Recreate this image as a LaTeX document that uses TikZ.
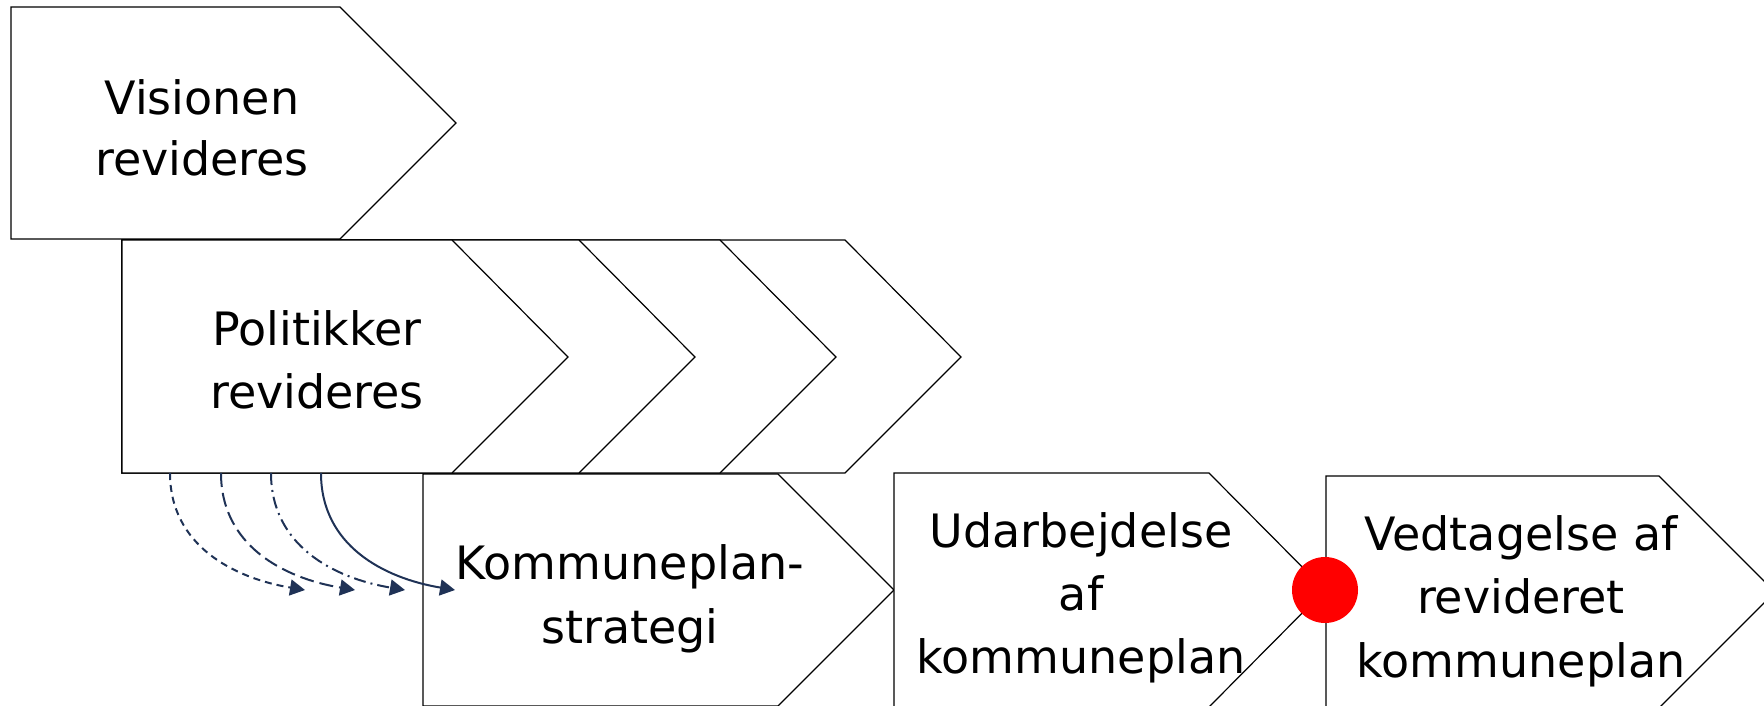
\documentclass[tikz,border=0pt]{standalone}
\usepackage{fontspec}
\setmainfont{DejaVu Sans}
\usetikzlibrary{arrows.meta}
\definecolor{navy}{RGB}{31,50,86}
\tikzset{
  plate/.style={draw=black, line width=1.2pt, fill=white, line join=miter},
  lbl/.style={anchor=base, inner sep=0pt, text=black, font=\fontsize{46}{63}\selectfont},
  flow/.style={draw=navy, line width=2pt, -{Triangle[length=15pt,width=16pt]}},
  dot/.style={circle, fill=red, draw=none, minimum size=66pt, inner sep=0pt}
}
\begin{document}
\begin{tikzpicture}[x=1pt,y=-1pt]
\useasboundingbox (0,0) rectangle (1764,705);
\begin{scope}
\clip (0,0) rectangle (1764,705);
% Visionen
\path[plate] (11,7) -- (340,7) -- (456,123) -- (340,239) -- (11,239) -- cycle;
% back chevrons of Politikker (right to left)
\path[plate] (122,240) -- (845,240) -- (961,357) -- (845,473) -- (122,473) -- cycle;
\path[plate] (122,240) -- (720,240) -- (836,357) -- (720,473) -- (122,473) -- cycle;
\path[plate] (122,240) -- (579,240) -- (695,357) -- (579,473) -- (122,473) -- cycle;
% Politikker
\path[plate] (122,240) -- (452,240) -- (568,357) -- (452,473) -- (122,473) -- cycle;
% Kommuneplan-strategi
\path[plate] (423,474) -- (778,474) -- (894,590) -- (778,706) -- (423,706) -- cycle;
% Udarbejdelse
\path[plate] (894,473) -- (1209,473) -- (1325,590) -- (1209,707) -- (894,707) -- cycle;
% Vedtagelse
\path[plate] (1326,476) -- (1659,476) -- (1775,592) -- (1659,708) -- (1326,708) -- cycle;
\end{scope}
\node[dot] (milestone) at (1325,590) {};

\node[lbl, font=\fontsize{46}{61}\selectfont] (tVis) at (202,114)
  {\begin{tabular}[t]{@{}c@{}}Visionen\\revideres\end{tabular}};
\node[lbl] (tPol) at (317,345)
  {\begin{tabular}[t]{@{}c@{}}Politikker\\revideres\end{tabular}};
\node[lbl, font=\fontsize{46}{64}\selectfont] (tKom) at (630,579)
  {\begin{tabular}[t]{@{}c@{}}Kommuneplan-\\strategi\end{tabular}};
\node[lbl] (tUd) at (1081,547)
  {\begin{tabular}[t]{@{}c@{}}Udarbejdelse\\af\\kommuneplan\end{tabular}};
\node[lbl, font=\fontsize{46}{63.5}\selectfont] (tVed) at (1521,550)
  {\begin{tabular}[t]{@{}c@{}}Vedtagelse af\\revideret\\kommuneplan\end{tabular}};

\coordinate (s1) at (170,473);
\coordinate (s2) at (221,473);
\coordinate (s3) at (271,473);
\coordinate (s4) at (321,473);
\coordinate (e1) at (305,590);
\coordinate (e2) at (355,590);
\coordinate (e3) at (405,590);
\coordinate (e4) at (455,590);
\draw[flow, dash pattern=on 7pt off 5pt] (s1) .. controls +(0,72) and +(-72,-12) .. (e1);
\draw[flow, dash pattern=on 14pt off 6pt] (s2) .. controls +(0,72) and +(-72,-12) .. (e2);
\draw[flow, dash pattern=on 12pt off 5pt on 2pt off 5pt] (s3) .. controls +(0,72) and +(-72,-12) .. (e3);
\draw[flow] (s4) .. controls +(0,72) and +(-72,-12) .. (e4);
\end{tikzpicture}
\end{document}
